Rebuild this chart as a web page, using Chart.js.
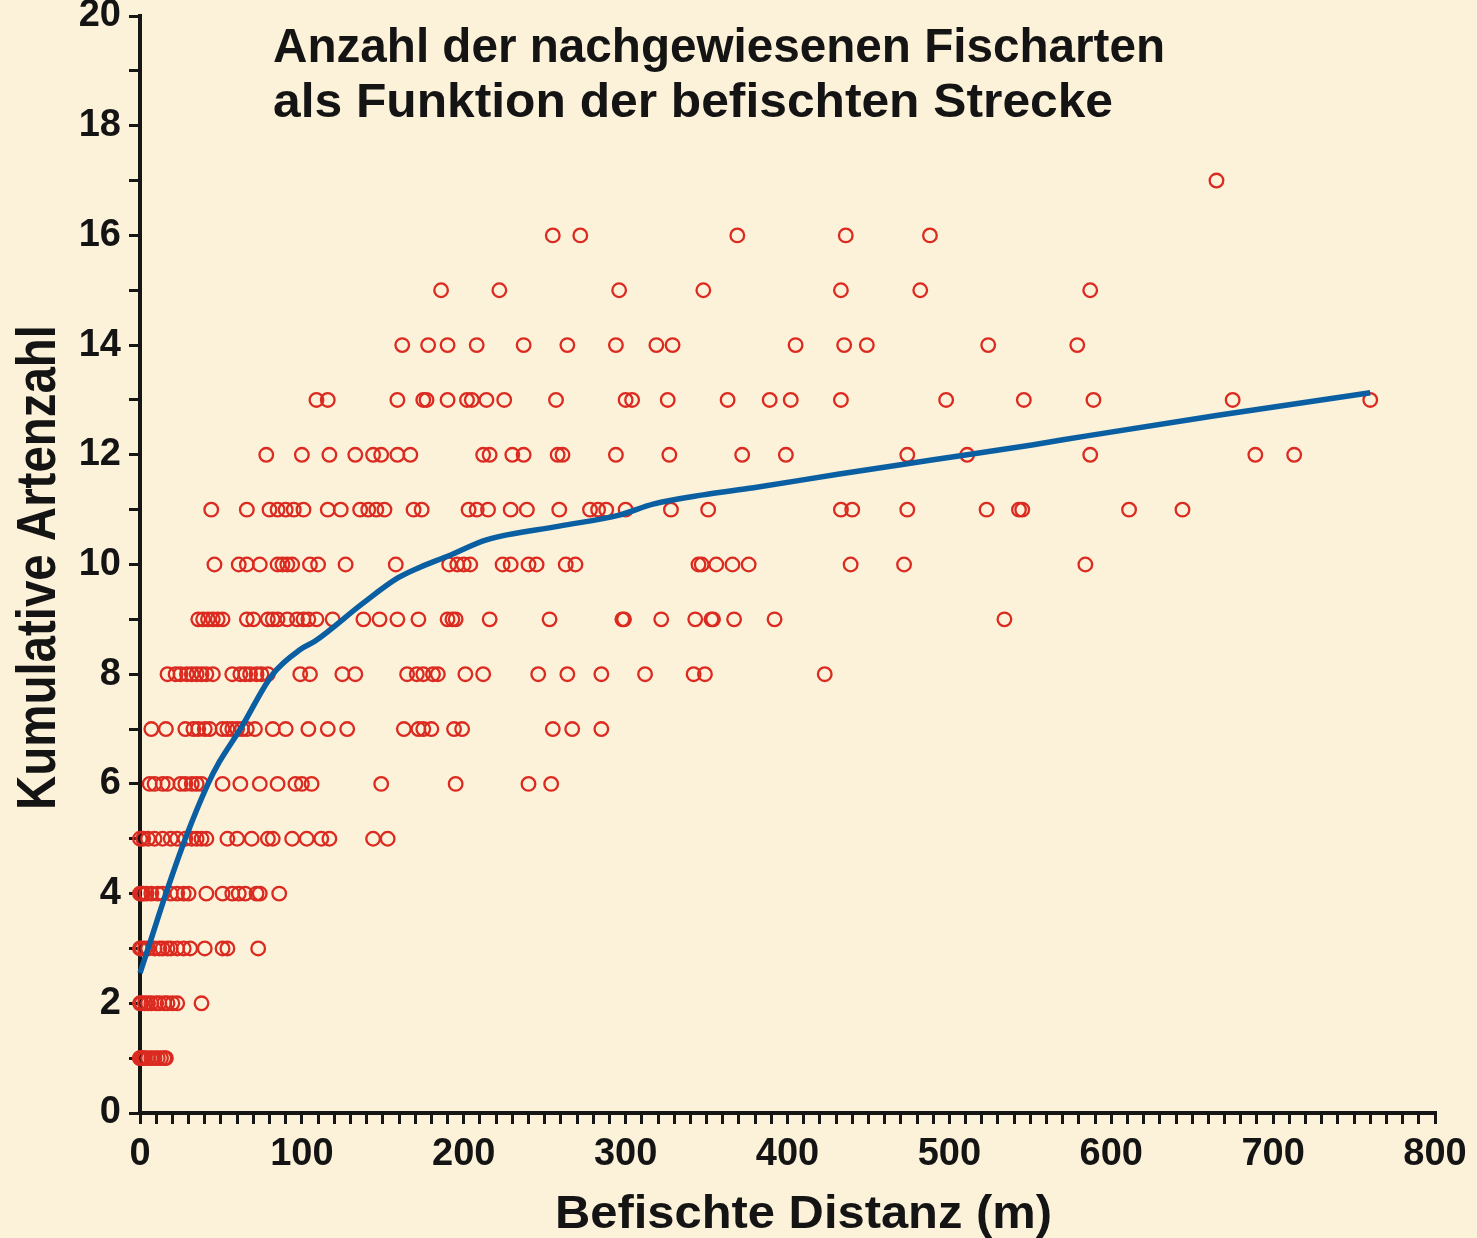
<!DOCTYPE html>
<html>
<head>
<meta charset="utf-8">
<title>Kumulative Artenzahl</title>
<script src="https://cdn.jsdelivr.net/npm/chart.js@4.4.1/dist/chart.umd.min.js"></script>
<style>
  html, body { margin: 0; padding: 0; background: #fcf1d9; }
  #wrap { width: 1477px; height: 1238px; }
</style>
</head>
<body>
<div id="wrap"><canvas id="fishChart" width="1477" height="1238"></canvas></div>
<script>
// befischte Distanz (m) der Einzelbefunde, je kumulativer Artenzahl
const dist1 = [0, 0, 1, 2, 3, 5, 7, 9, 11, 13, 15, 16];
const dist2 = [0, 1, 3, 5, 7, 10, 12, 15, 17, 20, 23, 38];
const dist3 = [0, 1, 3, 5, 9, 12, 14, 17, 19, 23, 27, 31, 40, 51, 54, 73];
const dist4 = [0, 1, 2, 4, 7, 11, 14, 19, 23, 27, 30, 41, 51, 57, 61, 65, 72, 74, 86];
const dist5 = [0, 2, 5, 9, 14, 19, 23, 28, 32, 35, 38, 41, 54, 60, 69, 79, 82, 94, 103, 112, 117, 144, 153];
const dist6 = [6, 9, 14, 17, 25, 28, 32, 35, 38, 51, 62, 74, 85, 96, 100, 106, 149, 195, 240, 254];
const dist7 = [7, 16, 28, 33, 36, 40, 43, 51, 54, 57, 60, 63, 66, 71, 82, 90, 104, 116, 128, 163, 172, 175, 180, 194, 199, 255, 267, 285];
const dist8 = [17, 22, 25, 29, 32, 35, 38, 41, 45, 57, 62, 65, 68, 72, 75, 79, 99, 105, 125, 133, 165, 171, 175, 181, 184, 201, 212, 246, 264, 285, 312, 342, 349, 423];
const dist9 = [36, 39, 42, 45, 48, 51, 66, 70, 79, 82, 85, 91, 97, 101, 104, 109, 119, 138, 148, 159, 172, 190, 193, 195, 216, 253, 298, 299, 322, 343, 353, 354, 367, 392, 534];
const dist10 = [46, 61, 66, 74, 85, 88, 91, 94, 105, 110, 127, 158, 191, 196, 200, 204, 224, 229, 240, 245, 263, 269, 345, 347, 356, 366, 376, 439, 472, 584];
const dist11 = [44, 66, 80, 85, 90, 95, 101, 116, 124, 136, 141, 146, 151, 169, 174, 203, 208, 215, 229, 239, 259, 278, 283, 288, 300, 328, 351, 433, 440, 474, 523, 543, 545, 611, 644];
const dist12 = [78, 100, 117, 133, 144, 149, 159, 167, 212, 216, 230, 237, 258, 261, 294, 327, 372, 399, 474, 511, 587, 689, 713];
const dist13 = [109, 116, 159, 175, 177, 190, 202, 205, 214, 225, 257, 300, 304, 326, 363, 389, 402, 433, 498, 546, 589, 675, 760];
const dist14 = [162, 178, 190, 208, 237, 264, 294, 319, 329, 405, 435, 449, 524, 579];
const dist15 = [186, 222, 296, 348, 433, 482, 587];
const dist16 = [255, 272, 369, 436, 488];
const dist17 = [665];

const speciesLevels = [1, 2, 3, 4, 5, 6, 7, 8, 9, 10, 11, 12, 13, 14, 15, 16, 17];
const distLists = [dist1, dist2, dist3, dist4, dist5, dist6, dist7, dist8, dist9,
                   dist10, dist11, dist12, dist13, dist14, dist15, dist16, dist17];

// angepasste Kurve
const fitDistance = [0, 5, 16, 28, 42, 49, 62, 82, 99, 108, 138, 159, 173, 190, 214, 259, 296, 317, 348, 379, 432, 488, 551, 586, 666, 760];
const fitSpecies = [2.55, 3.0, 4.0, 5.0, 6.0, 6.4, 7.0, 8.0, 8.45, 8.6, 9.3, 9.75, 9.95, 10.15, 10.45, 10.7, 10.9, 11.1, 11.27, 11.4, 11.65, 11.9, 12.18, 12.35, 12.72, 13.13];

const xTickLabels = [0, 100, 200, 300, 400, 500, 600, 700, 800];
const yTickLabels = [0, 2, 4, 6, 8, 10, 12, 14, 16, 18, 20];

const AXIS_COLOR = '#161616';
const TEXT_FONT = '"Liberation Sans", Arial, sans-serif';

const scatterPoints = speciesLevels.flatMap((lvl, i) => distLists[i].map(d => ({ x: d, y: lvl })));
const fitPoints = fitDistance.map((d, i) => ({ x: d, y: fitSpecies[i] }));

// text squeezed/stretched to the width it has in the original
function drawFitted(ctx, text, x, y, width, font, angle) {
    ctx.save();
    ctx.font = font;
    ctx.fillStyle = '#141414';
    ctx.textAlign = 'left';
    ctx.textBaseline = 'alphabetic';
    const w = ctx.measureText(text).width;
    ctx.translate(x, y);
    ctx.rotate(angle);
    ctx.scale(width / w, 1);
    ctx.fillText(text, 0, 0);
    ctx.restore();
}

const paperPlugin = {
    id: 'paper',
    beforeDraw(chart) {
        const ctx = chart.ctx;
        ctx.save();
        ctx.fillStyle = '#fcf1d9';
        ctx.fillRect(0, 0, chart.width, chart.height);
        ctx.restore();
    }
};

const labelPlugin = {
    id: 'labels',
    afterDraw(chart) {
        const ctx = chart.ctx;
        drawFitted(ctx, 'Anzahl der nachgewiesenen Fischarten', 273, 62, 892, `bold 48px ${TEXT_FONT}`, 0);
        drawFitted(ctx, 'als Funktion der befischten Strecke', 273, 117, 840, `bold 48px ${TEXT_FONT}`, 0);
        drawFitted(ctx, 'Kumulative Artenzahl', 55, 810, 485, `bold 56px ${TEXT_FONT}`, -Math.PI / 2);
        drawFitted(ctx, 'Befischte Distanz (m)', 555, 1228, 497, `bold 46px ${TEXT_FONT}`, 0);
    }
};

new Chart(document.getElementById('fishChart'), {
    type: 'scatter',
    data: {
        datasets: [
            {
                type: 'line',
                label: 'Anpassung',
                data: fitPoints,
                borderColor: '#0a5fa3',
                borderWidth: 5.5,
                pointRadius: 0,
                fill: false,
                cubicInterpolationMode: 'monotone',
                clip: false,
                order: 0
            },
            {
                label: 'Befischungen',
                data: scatterPoints,
                pointStyle: 'circle',
                pointRadius: 6.8,
                pointBorderWidth: 2.3,
                borderColor: '#db2a20',
                backgroundColor: 'rgba(0,0,0,0)',
                clip: false,
                order: 1
            }
        ]
    },
    options: {
        responsive: false,
        animation: false,
        devicePixelRatio: 1,
        layout: { padding: { top: 16, right: 42, bottom: 0, left: 0 } },
        plugins: {
            legend: { display: false },
            tooltip: { enabled: false },
            title: { display: false }
        },
        scales: {
            x: {
                type: 'linear',
                min: 0,
                max: 800,
                afterFit(scale) {
                    scale.height = 125;
                    scale.paddingLeft = 0;
                    scale.paddingRight = 0;
                },
                ticks: {
                    stepSize: 10,
                    autoSkip: false,
                    maxTicksLimit: 200,
                    maxRotation: 0,
                    minRotation: 0,
                    padding: 8,
                    color: '#141414',
                    font: { family: TEXT_FONT, size: 38, weight: 'bold' },
                    callback: v => xTickLabels.includes(v) ? String(v) : ''
                },
                grid: { drawOnChartArea: false, drawTicks: true, tickLength: 11, color: AXIS_COLOR, lineWidth: 3 },
                border: { display: true, color: AXIS_COLOR, width: 4 },
                title: { display: false }
            },
            y: {
                type: 'linear',
                min: 0,
                max: 20,
                afterFit(scale) {
                    scale.width = 140;
                    scale.paddingTop = 0;
                    scale.paddingBottom = 0;
                },
                ticks: {
                    stepSize: 1,
                    autoSkip: false,
                    maxTicksLimit: 100,
                    padding: 8,
                    color: '#141414',
                    font: { family: TEXT_FONT, size: 38, weight: 'bold' },
                    callback: v => yTickLabels.includes(v) ? String(v) : ''
                },
                grid: { drawOnChartArea: false, drawTicks: true, tickLength: 11, color: AXIS_COLOR, lineWidth: 3 },
                border: { display: true, color: AXIS_COLOR, width: 4 },
                title: { display: false }
            }
        }
    },
    plugins: [paperPlugin, labelPlugin]
});
</script>
</body>
</html>
